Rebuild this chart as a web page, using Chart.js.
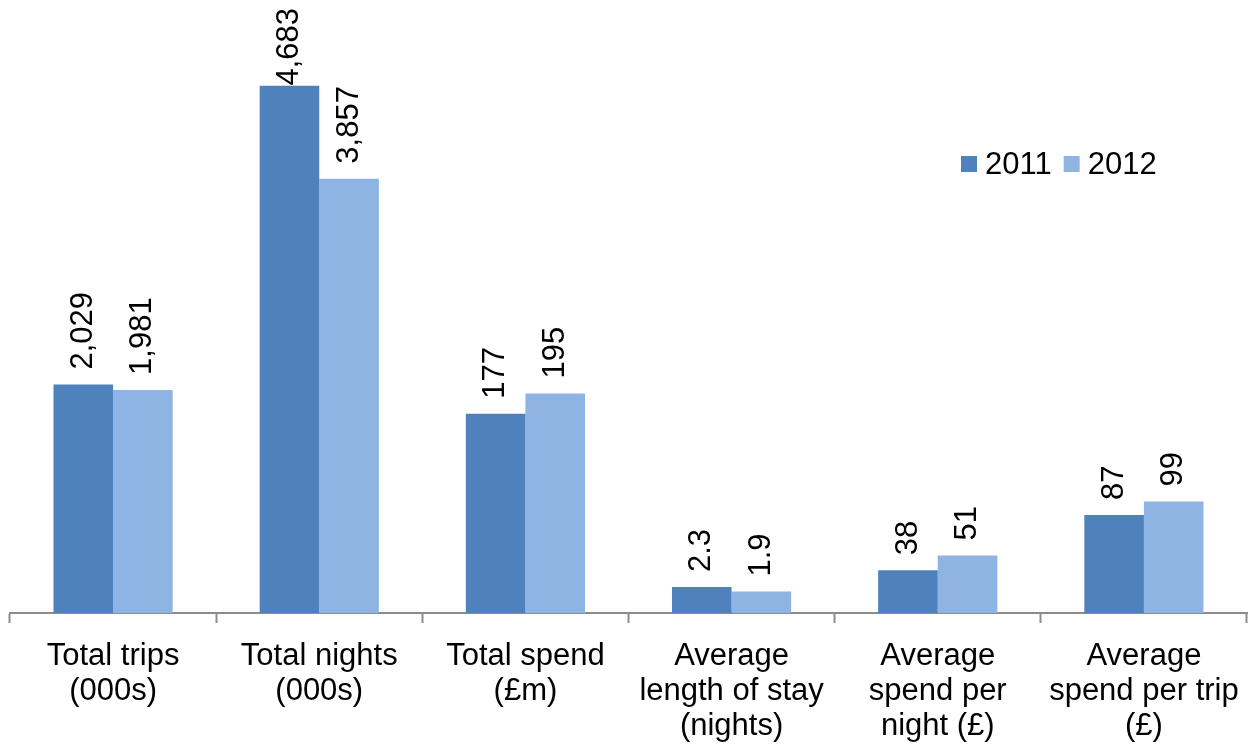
<!DOCTYPE html>
<html>
<head>
<meta charset="utf-8">
<title>Visits 2011 vs 2012</title>
<script src="https://cdn.jsdelivr.net/npm/chart.js@4/dist/chart.umd.min.js"></script>
<style>
  html, body { margin: 0; padding: 0; background: #ffffff; }
  #wrap { width: 1252px; height: 747px; position: relative; }
</style>
</head>
<body>
<div id="wrap"><canvas id="chart" width="1252" height="747"></canvas></div>
<script>
// Category labels (multi-line)
const categories = [
  ['Total trips', '(000s)'],
  ['Total nights', '(000s)'],
  ['Total spend', '(£m)'],
  ['Average', 'length of stay', '(nights)'],
  ['Average', 'spend per', 'night (£)'],
  ['Average', 'spend per trip', '(£)']
];

// Reported values for each year
const values2011 = [2029, 4683, 177, 2.3, 38, 87];
const values2012 = [1981, 3857, 195, 1.9, 51, 99];

// Each measure is drawn on a shared axis after multiplying by its display factor
const displayFactor = [1, 1, 10, 100, 10, 10];

const seriesNames = ['2011', '2012'];
const seriesColors = ['#4f81bd', '#8eb4e3'];

const FONT = '"Liberation Sans", Arial, Helvetica, sans-serif';
const FONT_SIZE = 31;

const plotted = (vals) => vals.map((v, i) => v * displayFactor[i]);
const fmt = (v) => v.toLocaleString('en-GB', { maximumFractionDigits: 1 });

// Rotated value labels above each bar
const valueLabels = {
  id: 'valueLabels',
  afterDatasetsDraw(chart) {
    const ctx = chart.ctx;
    ctx.save();
    ctx.font = FONT_SIZE + 'px ' + FONT;
    ctx.fillStyle = '#000000';
    ctx.textBaseline = 'middle';
    ctx.textAlign = 'left';
    chart.data.datasets.forEach((ds, di) => {
      const meta = chart.getDatasetMeta(di);
      meta.data.forEach((bar, i) => {
        const text = fmt(ds.rawValues[i]);
        const w = ctx.measureText(text).width;
        let start = bar.y - 15;
        if (start - w < 8) start = 8 + w;
        ctx.save();
        ctx.translate(bar.x, start);
        ctx.rotate(-Math.PI / 2);
        ctx.fillText(text, 0, 0);
        ctx.restore();
      });
    });
    ctx.restore();
  }
};

// Legend drawn inside the plot area at the upper right
const insideLegend = {
  id: 'insideLegend',
  afterDraw(chart) {
    const ctx = chart.ctx;
    ctx.save();
    ctx.font = FONT_SIZE + 'px ' + FONT;
    ctx.textBaseline = 'middle';
    ctx.textAlign = 'left';
    let x = 961;
    const y = 164;
    const box = 16;
    chart.data.datasets.forEach((ds) => {
      ctx.fillStyle = ds.backgroundColor;
      ctx.fillRect(x, y - box / 2, box, box);
      x += box + 8;
      ctx.fillStyle = '#000000';
      ctx.fillText(ds.label, x, y + 1);
      x += ctx.measureText(ds.label).width + 12;
    });
    ctx.restore();
  }
};

new Chart(document.getElementById('chart'), {
  type: 'bar',
  data: {
    labels: categories,
    datasets: [
      { label: seriesNames[0], data: plotted(values2011), rawValues: values2011, backgroundColor: seriesColors[0] },
      { label: seriesNames[1], data: plotted(values2012), rawValues: values2012, backgroundColor: seriesColors[1] }
    ]
  },
  options: {
    responsive: false,
    animation: false,
    layout: { padding: { left: 10, right: 5, top: 50, bottom: 0 } },
    datasets: { bar: { categoryPercentage: 0.578, barPercentage: 1.0, borderWidth: 0 } },
    plugins: {
      legend: { display: false },
      tooltip: { enabled: false }
    },
    scales: {
      x: {
        offset: true,
        afterFit(scale) {
          scale.height = 134;
          scale.paddingLeft = 0;
          scale.paddingRight = 0;
        },
        grid: {
          display: true,
          offset: true,
          drawOnChartArea: false,
          drawTicks: true,
          tickLength: 10,
          tickWidth: 2,
          tickColor: '#8c8c8c'
        },
        border: { display: true, color: '#8c8c8c', width: 2 },
        ticks: {
          color: '#000000',
          padding: 16,
          maxRotation: 0,
          autoSkip: false,
          font: { family: FONT, size: FONT_SIZE, lineHeight: '35px' }
        }
      },
      y: {
        display: false,
        min: 0,
        max: 5000
      }
    }
  },
  plugins: [valueLabels, insideLegend]
});
</script>
</body>
</html>
